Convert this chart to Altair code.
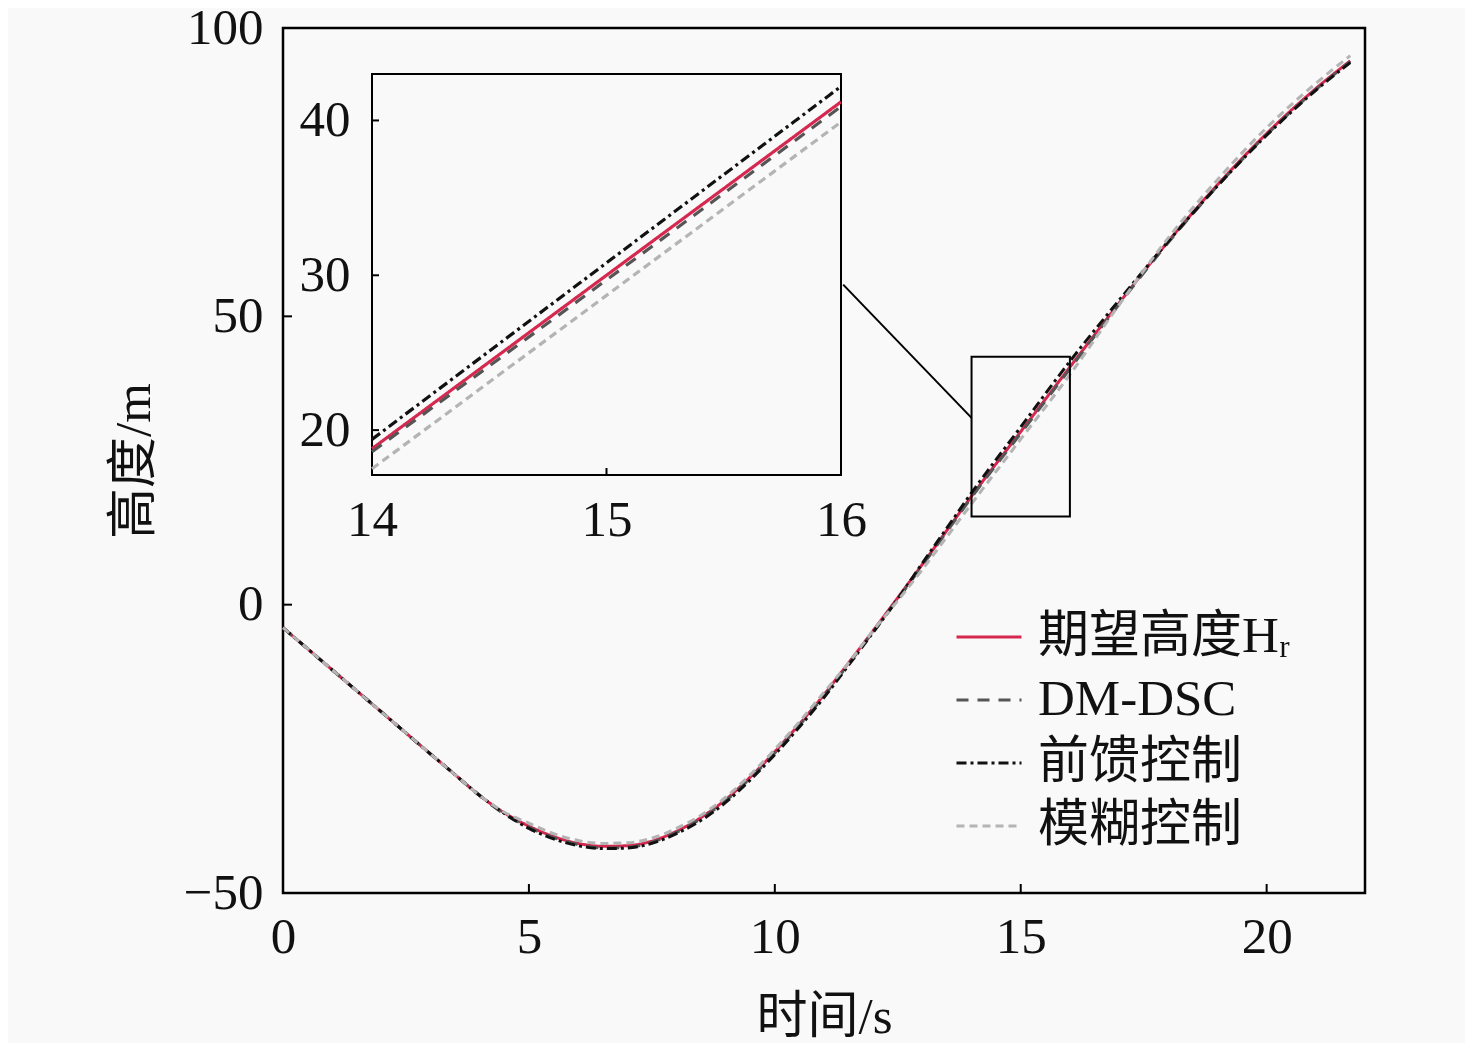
import altair as alt
import pandas as pd

# ---------------- data ----------------
t = [0, 1, 2, 3, 3.5, 4, 4.5, 5, 5.5, 6, 6.5, 7, 7.5, 8, 8.5, 9, 9.5, 10, 10.5, 11,
     11.5, 12, 12.5, 13, 13.5, 14, 15, 16, 17, 18, 19, 20, 21, 21.7]
h_ref = [-4.0, -11.3, -18.6, -25.9, -29.5, -33.1, -36.1, -38.4, -40.2, -41.4, -41.9,
         -41.8, -41.0, -39.3, -36.9, -33.8, -29.9, -25.5, -20.7, -15.6, -10.1, -4.5,
         1.2, 7.0, 12.9, 18.8, 30.0, 41.2, 52.3, 63.0, 72.8, 81.7, 89.5, 94.3]
h_dm = [-4.0, -11.3, -18.6, -25.9, -29.5, -33.1, -36.3, -38.6, -40.4, -41.6, -42.2,
        -42.1, -41.2, -39.5, -37.1, -34.0, -30.1, -25.7, -20.9, -15.8, -10.3, -4.7,
        1.0, 6.8, 12.7, 18.6, 29.7, 40.9, 52.1, 62.8, 72.6, 81.5, 89.3, 94.2]
h_ff = [-4.0, -11.3, -18.6, -25.9, -29.5, -33.1, -36.2, -38.8, -40.6, -41.8, -42.3,
        -42.2, -41.4, -39.7, -37.4, -34.3, -30.4, -26.0, -21.2, -16.1, -10.5, -4.8,
        1.0, 7.2, 13.3, 19.4, 30.8, 42.2, 52.8, 63.0, 72.6, 81.4, 89.2, 94.0]
h_fz = [-4.0, -11.3, -18.6, -25.9, -29.5, -33.1, -36.0, -37.9, -39.7, -40.9, -41.4,
        -41.3, -40.5, -38.8, -36.5, -33.4, -29.5, -25.1, -20.3, -15.2, -10.1, -4.5,
        0.7, 6.1, 11.8, 17.5, 28.7, 39.9, 52.0, 63.6, 73.7, 82.7, 90.4, 95.2]

series = ["期望高度Hᵣ", "DM-DSC", "前馈控制", "模糊控制"]
colors = ["#d6274f", "#555555", "#111111", "#b4b4b4"]
dashes = [[1, 0], [12, 9], [10, 4, 3, 4], [8, 5]]

x_ticks_main = [0, 5, 10, 15, 20]
y_ticks_main = [-50, 0, 50, 100]
x_ticks_inset = [14, 15, 16]
y_ticks_inset = [20, 30, 40]

x_main_domain = [0, 22]
y_main_domain = [-50, 100]
x_inset_domain = [14, 16]
y_inset_domain = [17.1, 43.0]

# zoom box and connector (main data coordinates)
zoom_box = {"t0": [14], "t1": [16], "h0": [15.3], "h1": [43.0]}
connector = {"ta": [11.39], "ha": [55.5], "tb": [14.0], "hb": [32.4]}

# ---------------- build tables ----------------
rows = []
for name, ys in zip(series, [h_ref, h_dm, h_ff, h_fz]):
    for i, (tt, yy) in enumerate(zip(t, ys)):
        rows.append({"t": tt, "h": yy, "series": name, "order": i})
df = pd.DataFrame(rows)
df_inset = df[(df["t"] >= 14) & (df["t"] <= 16)]

BG = "#f9f9f9"
LATIN = "Liberation Serif"
MIXED = "Liberation Serif, Noto Sans CJK SC"
FS = 51

W, H = 1082, 865
# inset placement in pixels inside the main plot area
IX = [89, 558]
IY = [447, 46]

xs_main = alt.Scale(domain=x_main_domain, nice=False, zero=False)
ys_main = alt.Scale(domain=y_main_domain, nice=False, zero=False)
xs_in = alt.Scale(domain=x_inset_domain, range=IX, nice=False, zero=False)
ys_in = alt.Scale(domain=y_inset_domain, range=IY, nice=False, zero=False)

common = dict(ticks=False, domain=False, grid=False, labelFlush=False, labelOverlap=False)
ax_x_main = alt.Axis(values=x_ticks_main, title="时间/s", labelPadding=19, titlePadding=30,
                     **common)
ax_y_main = alt.Axis(values=y_ticks_main, title="高度/m", labelPadding=20, titlePadding=23,
                     **common)
ax_x_in = alt.Axis(values=x_ticks_inset, title=None, orient="bottom", offset=IY[0] - H,
                   labelPadding=20, labelExpr="format(datum.value, '.0f')", **common)
ax_y_in = alt.Axis(values=y_ticks_inset, title=None, orient="left", offset=-IX[0],
                   labelPadding=22, labelExpr="format(datum.value, '.0f')", **common)

color_enc = alt.Color("series:N", scale=alt.Scale(domain=series, range=colors),
                      legend=alt.Legend(orient="none", legendX=672, legendY=575, title=None,
                                        labelFontSize=FS, labelFont=MIXED, symbolType="stroke",
                                        symbolSize=4225, symbolStrokeWidth=3, rowPadding=4,
                                        labelOffset=15, labelColor="#111111", labelLimit=0))
dash_enc = alt.StrokeDash("series:N", scale=alt.Scale(domain=series, range=dashes), legend=None)

# ---------------- main plot ----------------
main_lines = alt.Chart(df).mark_line(interpolate="monotone", strokeWidth=3).encode(
    x=alt.X("t:Q", scale=xs_main, axis=ax_x_main),
    y=alt.Y("h:Q", scale=ys_main, axis=ax_y_main),
    color=color_enc,
    strokeDash=dash_enc,
    order="order:Q",
)

xt_main = alt.Chart(pd.DataFrame({"t": x_ticks_main[1:]})).mark_rule(
    color="black", strokeWidth=2).encode(
    x=alt.X("t:Q", scale=xs_main, axis=ax_x_main),
    y=alt.value(H), y2=alt.value(H - 9))
yt_main = alt.Chart(pd.DataFrame({"h": y_ticks_main[1:-1]})).mark_rule(
    color="black", strokeWidth=2).encode(
    y=alt.Y("h:Q", scale=ys_main, axis=ax_y_main),
    x=alt.value(0), x2=alt.value(9))

box = alt.Chart(pd.DataFrame(zoom_box)).mark_rect(
    fill=None, fillOpacity=0, stroke="black", strokeWidth=2).encode(
    x=alt.X("t0:Q", scale=xs_main, axis=ax_x_main), x2="t1:Q",
    y=alt.Y("h0:Q", scale=ys_main, axis=ax_y_main), y2="h1:Q")

conn = alt.Chart(pd.DataFrame(connector)).mark_rule(color="black", strokeWidth=2).encode(
    x=alt.X("ta:Q", scale=xs_main, axis=ax_x_main), x2="tb:Q",
    y=alt.Y("ha:Q", scale=ys_main, axis=ax_y_main), y2="hb:Q")

main = alt.layer(main_lines, xt_main, yt_main, box, conn)

# ---------------- inset ----------------
frame = alt.Chart(pd.DataFrame({"t0": [x_inset_domain[0]], "t1": [x_inset_domain[1]],
                                "h0": [y_inset_domain[0]], "h1": [y_inset_domain[1]]})).mark_rect(
    fill=BG, stroke="black", strokeWidth=2).encode(
    x=alt.X("t0:Q", scale=xs_in, axis=ax_x_in), x2="t1:Q",
    y=alt.Y("h0:Q", scale=ys_in, axis=ax_y_in), y2="h1:Q")

inset_lines = alt.Chart(df_inset).mark_line(interpolate="monotone", strokeWidth=3.2).encode(
    x=alt.X("t:Q", scale=xs_in, axis=ax_x_in),
    y=alt.Y("h:Q", scale=ys_in, axis=ax_y_in),
    color=color_enc,
    strokeDash=dash_enc,
    order="order:Q",
)

xt_in = alt.Chart(pd.DataFrame({"t": x_ticks_inset[1:-1]})).mark_rule(
    color="black", strokeWidth=2).encode(
    x=alt.X("t:Q", scale=xs_in, axis=ax_x_in),
    y=alt.value(IY[0]), y2=alt.value(IY[0] - 7))
yt_in = alt.Chart(pd.DataFrame({"h": y_ticks_inset})).mark_rule(
    color="black", strokeWidth=2).encode(
    y=alt.Y("h:Q", scale=ys_in, axis=ax_y_in),
    x=alt.value(IX[0]), x2=alt.value(IX[0] + 7))

inset = alt.layer(frame, inset_lines, xt_in, yt_in)

chart = alt.layer(main, inset).resolve_scale(
    x="independent", y="independent"
).properties(
    width=W, height=H,
    autosize=alt.AutoSizeParams(type="none"),
    padding={"left": 275, "top": 20, "right": 100, "bottom": 150},
    background=BG,
).configure_view(
    stroke="black", strokeWidth=2.5
).configure_axis(
    labelFont=LATIN, labelFontSize=FS, labelColor="#111111",
    titleFont=MIXED, titleFontSize=FS, titleFontWeight="normal", titleColor="#111111",
)

chart.save("out.html", embed_options={"renderer": "svg", "actions": False})
